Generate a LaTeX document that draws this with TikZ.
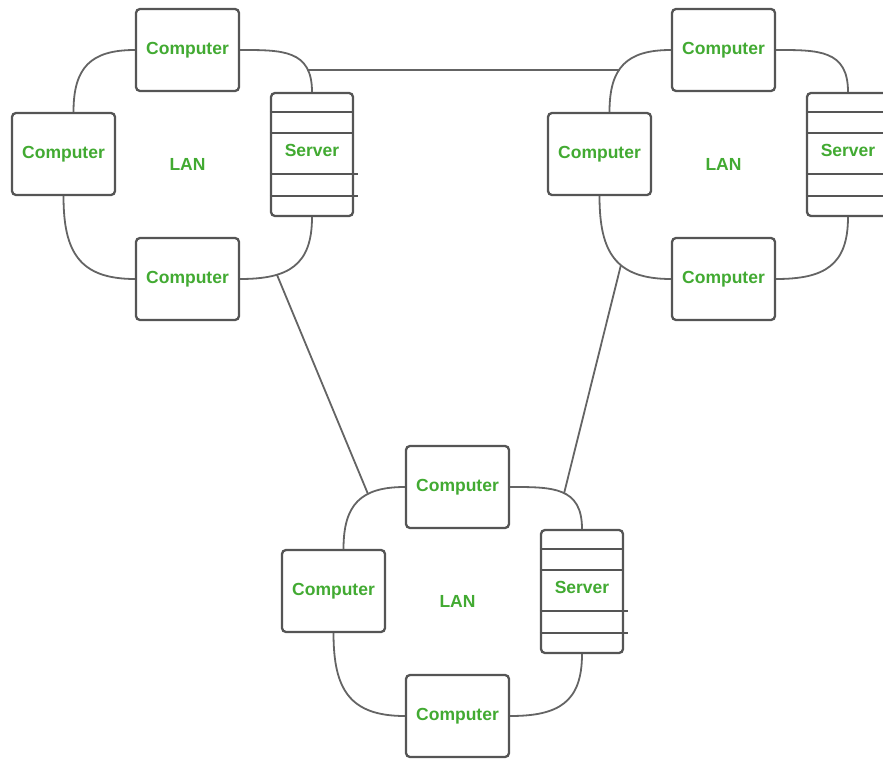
\documentclass[tikz,border=0pt]{standalone}
\usepackage{fontspec}
\setmainfont{Liberation Sans}
\definecolor{txtgreen}{RGB}{66,170,50}
\definecolor{edgegray}{RGB}{85,85,85}
\definecolor{ringgray}{RGB}{100,100,100}
\tikzset{
  txt/.style={text=txtgreen,font=\fontsize{17.5}{20}\selectfont\bfseries},
  comp/.style={draw=edgegray,line width=2.3pt,rounded corners=4pt,fill=white,
    minimum width=103pt,minimum height=82pt,inner sep=0pt,txt},
  srv/.style={draw=edgegray,line width=2.3pt,rounded corners=4pt,fill=white,
    minimum width=82pt,minimum height=123pt,inner sep=0pt},
  srvline/.style={draw=edgegray,line width=1.8pt},
  ring/.style={draw=ringgray,line width=1.8pt,looseness=1.3},
  link/.style={draw=ringgray,line width=1.8pt},
}
\newcommand\lancluster[3]{%
\begin{scope}[shift={(#2,#3)}]
  \node[comp] (#1T) at (187.5,50) {Computer};
  \node[comp] (#1L) at (63.5,154) {Computer};
  \node[comp] (#1B) at (187.5,279) {Computer};
  \node[srv,label={[txt,yshift=4pt]center:Server}] (#1S) at (312,154.5) {};
  \node[txt] (#1N) at (187.5,164) {LAN};
  \draw[srvline] ([yshift=-20pt]#1S.north west) -- ([yshift=-20pt]#1S.north east);
  \draw[srvline] ([yshift=-41pt]#1S.north west) -- ([yshift=-41pt]#1S.north east);
  \draw[srvline] ([yshift=-82pt]#1S.north west) -- ([xshift=4pt,yshift=-82pt]#1S.north east);
  \draw[srvline] ([yshift=-104pt]#1S.north west) -- ([xshift=4pt,yshift=-104pt]#1S.north east);
  \draw[ring] (#1T.west) to[out=180,in=90] coordinate[pos=0.57] (#1nwA) coordinate[pos=0.35] (#1nwB) ([xshift=10pt]#1L.north);
  \draw[ring] (#1T.east) to[out=0,in=90] coordinate[pos=0.78] (#1neA) coordinate[pos=0.53] (#1neB) (#1S.north);
  \draw[ring] (#1L.south) to[out=-90,in=180] coordinate[pos=0.59] (#1sw) (#1B.west);
  \draw[ring] (#1S.south) to[out=-90,in=0] coordinate[pos=0.7] (#1se) (#1B.east);
\end{scope}}
\begin{document}
\begin{tikzpicture}[x=1pt,y=-1pt]
\useasboundingbox (0,0) rectangle (883,759);
\clip (0,0) rectangle (883,759);
\lancluster{a}{0}{0}
\lancluster{b}{536}{0}
\lancluster{c}{270}{437}
\draw[link] (aneA) -- (aneA -| bnwA);
\draw[link] (ase) -- (cnwB);
\draw[link] (bsw) -- (cneB);
\end{tikzpicture}
\end{document}
